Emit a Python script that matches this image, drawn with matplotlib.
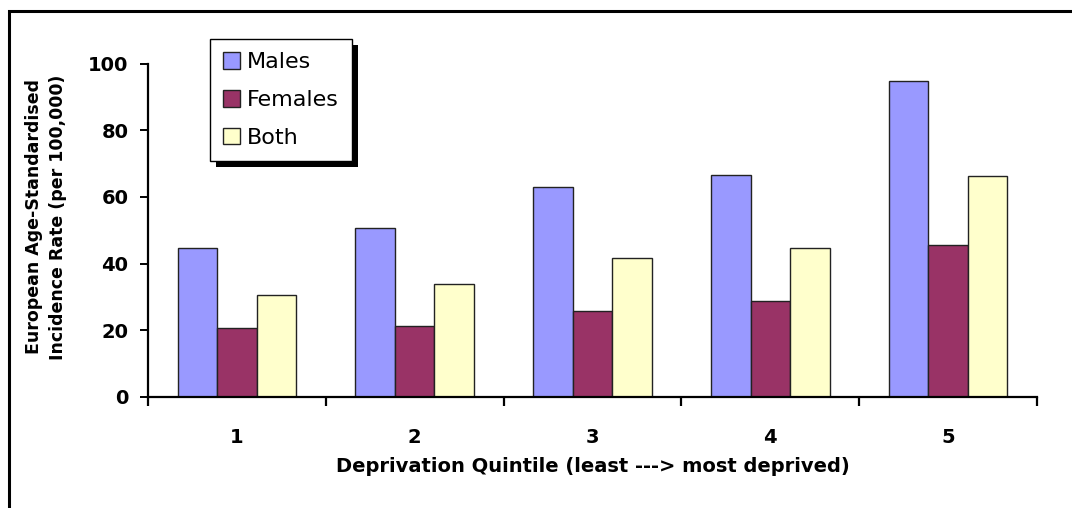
import matplotlib
matplotlib.use('Agg')
import matplotlib.pyplot as plt
from matplotlib.patches import Rectangle
import numpy as np

plt.rcParams['font.family'] = ['DejaVu Sans']

quintiles = ['1', '2', '3', '4', '5']
males = [44.8, 50.6, 63.1, 66.7, 94.9]
females = [20.7, 21.3, 25.9, 28.7, 45.7]
both = [30.7, 34.0, 41.6, 44.8, 66.3]
series_names = ['Males', 'Females', 'Both']
series_colors = ['#9999FF', '#993366', '#FFFFCC']

W, H = 1072, 508
fig = plt.figure(figsize=(W / 100, H / 100), dpi=100)

# outer chart frame (runs off the right and bottom edge)
fig.patches.append(Rectangle((9 / W, -0.1), 1.2, (H - 11) / H + 0.1,
                             transform=fig.transFigure, fill=False,
                             edgecolor='black', linewidth=2.2, zorder=0))

ax = fig.add_axes([148 / W, (H - 397) / H, (1037 - 148) / W, (397 - 63.5) / H])

x = np.arange(len(quintiles))
w = 0.222
for k, (vals, name, col) in enumerate(zip([males, females, both], series_names, series_colors)):
    ax.bar(x + (k - 1) * w, vals, width=w, color=col, edgecolor='#222222',
           linewidth=1.0, label=name, zorder=2)

ax.set_xlim(-0.5, len(quintiles) - 0.5)
ax.set_ylim(0, 100)
ax.set_yticks([0, 20, 40, 60, 80, 100])
ax.set_xticks(x)
ax.set_xticklabels(quintiles)
ax.set_xticks(np.arange(-0.5, len(quintiles)), minor=True)

for s in ['top', 'right']:
    ax.spines[s].set_visible(False)
for s in ['left', 'bottom']:
    ax.spines[s].set_linewidth(1.6)

ax.tick_params(axis='x', which='major', length=0, pad=22, labelsize=14)
ax.tick_params(axis='x', which='minor', length=6.5, width=1.6, direction='out')
ax.tick_params(axis='y', length=6, width=1.4, pad=8, labelsize=14)
for lab in ax.get_xticklabels() + ax.get_yticklabels():
    lab.set_fontweight('bold')

fig.text(593 / W, (H - 467) / H, 'Deprivation Quintile (least ---> most deprived)',
         ha='center', va='center', fontsize=14, fontweight='bold')
fig.text(46 / W, (H - 217) / H, 'European Age-Standardised\nIncidence Rate (per 100,000)',
         ha='center', va='center', rotation=90, fontsize=12.5, fontweight='bold',
         linespacing=1.4)

leg = ax.legend(loc='upper left', bbox_to_anchor=(210 / W, (H - 39) / H),
                bbox_transform=fig.transFigure, fontsize=16, frameon=True,
                fancybox=False, edgecolor='black', framealpha=1,
                handlelength=0.75, handleheight=0.75, handletextpad=0.3,
                labelspacing=0.8, borderpad=0.6, borderaxespad=0)
leg.get_frame().set_linewidth(1.0)
leg.set_zorder(5)

# drop shadow behind legend box
fig.canvas.draw()
bb = leg.get_window_extent()
shadow = Rectangle(((bb.x0 + 6) / W, (bb.y0 - 6) / H), bb.width / W, bb.height / H,
                   transform=fig.transFigure, facecolor='black',
                   edgecolor='none', zorder=4, clip_on=False)
ax.add_patch(shadow)

fig.savefig('out.png', dpi=100)
